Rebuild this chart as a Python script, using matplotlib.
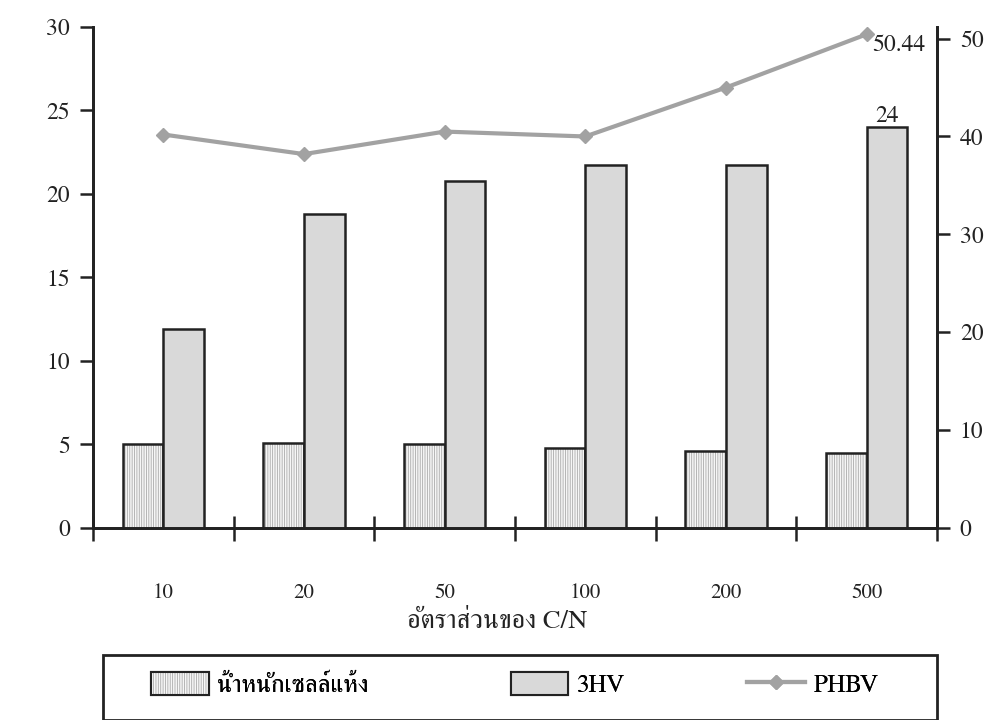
import numpy as np
import matplotlib
matplotlib.use('Agg')
import matplotlib.pyplot as plt
from matplotlib.lines import Line2D
from matplotlib.patches import Patch, Rectangle

# FreeSerif carries both Latin and Thai glyphs
plt.rcParams['font.family'] = ['FreeSerif', 'DejaVu Serif']
plt.rcParams['hatch.linewidth'] = 0.6

cn_ratio = ['10', '20', '50', '100', '200', '500']
dry_weight = [5.0, 5.1, 5.0, 4.8, 4.6, 4.5]     # left axis
hv3 = [11.9, 18.8, 20.8, 21.7, 21.7, 24]        # left axis
phbv = [40.2, 38.2, 40.5, 40.0, 45.0, 50.44]    # right axis

x = np.arange(len(cn_ratio))
w = 0.29
ink = '#222222'
dry_fc, hatch_c, hv_fc, line_c = '#f6f6f6', '#aaaaaa', '#d9d9d9', '#a2a2a2'

fig = plt.figure(figsize=(9.94, 7.2), dpi=100)
ax = fig.add_axes([0.0936, 0.2667, 0.849, 0.696])
ax2 = ax.twinx()

# hatch takes the edge colour, so the grey stripes and the dark outline are two layers
ax.bar(x - w / 2, dry_weight, w, color=dry_fc, edgecolor=hatch_c,
       linewidth=0, hatch='|||||||', zorder=3)
ax.bar(x - w / 2, dry_weight, w, fill=False, edgecolor=ink,
       linewidth=1.8, zorder=3)
ax.bar(x + w / 2, hv3, w, color=hv_fc, edgecolor=ink,
       linewidth=1.8, zorder=3)
ax2.plot(x, phbv, color=line_c, lw=3, marker='D', ms=7,
         mfc=line_c, mec=line_c, zorder=4)

ax.text(x[-1] + w / 2, hv3[-1], '%g' % hv3[-1], ha='center', va='bottom',
        fontsize=17, color=ink)
ax2.text(x[-1] + 0.04, phbv[-1], '%g' % phbv[-1], ha='left', va='top',
         fontsize=17, color=ink)

ax.set_xlim(-0.5, len(cn_ratio) - 0.5)
ax.set_ylim(0, 30)
ax2.set_ylim(0, 51.2)
ax.set_yticks(np.arange(0, 31, 5))
ax2.set_yticks(np.arange(0, 51, 10))

# ticks on the group boundaries, labels under each group
ax.set_xticks(np.arange(-0.5, len(cn_ratio)))
ax.set_xticklabels([])
ax.set_xticks(x, minor=True)
ax.set_xticklabels(cn_ratio, minor=True, fontsize=15)
ax.tick_params(axis='x', which='major', direction='inout', length=18,
               width=1.8, color=ink)
ax.tick_params(axis='x', which='minor', length=0, pad=40, colors=ink)
ax.tick_params(axis='y', direction='out', length=9.5, width=1.8,
               labelsize=17, pad=7, colors=ink)
ax2.tick_params(axis='y', direction='out', length=9.5, width=1.8,
                labelsize=17, pad=7, colors=ink)

for a in (ax, ax2):
    a.spines['top'].set_visible(False)
    for s in ('left', 'right', 'bottom'):
        a.spines[s].set_linewidth(2)
        a.spines[s].set_color(ink)

fig.text(0.5, 1 - 622 / 720, 'อัตราส่วนของ C/N', ha='center', va='center',
         fontsize=19, color=ink)

# legend: one framed strip holding three separate entries
fig.patches.append(Rectangle((0.104, 0.0), 0.839, 0.09, transform=fig.transFigure,
                             fill=False, edgecolor=ink, linewidth=2))
dry_handle = (Patch(facecolor=dry_fc, edgecolor=hatch_c, hatch='|||||||', lw=0),
              Patch(fill=False, edgecolor=ink, lw=1.5))
entries = [
    (0.152, dry_handle, 'น้ำหนักเซลล์แห้ง'),
    (0.514, Patch(facecolor=hv_fc, edgecolor=ink, lw=1.5), '3HV'),
    (0.752, Line2D([], [], color=line_c, lw=3, marker='D', ms=7,
                   mfc=line_c, mec=line_c), 'PHBV'),
]
for xpos, h, lab in entries:
    lg = fig.legend([h], [lab], loc='center left',
                    bbox_to_anchor=(xpos, 1 - 685 / 720), fontsize=18,
                    frameon=False, handlelength=2.3, handleheight=1.05,
                    handletextpad=0.35, borderpad=0, borderaxespad=0)
    fig.add_artist(lg)

fig.savefig('out.png', dpi=100)
